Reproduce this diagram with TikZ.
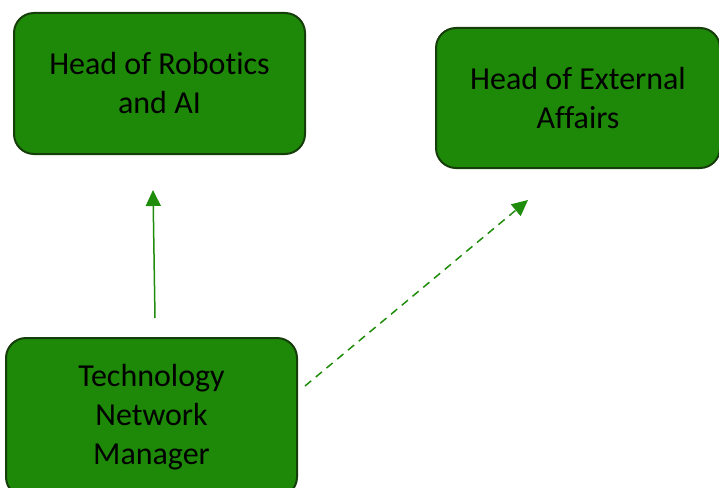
\documentclass[tikz,border=0pt]{standalone}
\usepackage{fontspec}
\setmainfont[Ligatures={NoCommon}]{Carlito}
\usetikzlibrary{arrows.meta}
\definecolor{boxfill}{RGB}{30,137,8}
\definecolor{boxline}{RGB}{22,62,10}
\definecolor{arrowgreen}{RGB}{32,140,12}
\tikzset{
  rolebox/.style={draw=boxline, line width=2pt, fill=boxfill, rounded corners=20pt,
    inner sep=0pt, align=center, text=black,
    font=\fontsize{32}{39}\selectfont},
  linkarrow/.style={draw=arrowgreen, line width=1.5pt,
    -{Triangle[length=16pt,width=15pt]}},
  dashlink/.style={linkarrow, dash pattern=on 8pt off 6pt}
}
\begin{document}
\begin{tikzpicture}[x=1pt,y=1pt]
\useasboundingbox (0,0) rectangle (719,-487);
\clip (0,0) rectangle (719,-487);
\node[rolebox, minimum width=291pt, minimum height=141pt] (robotics) at (159.5,-83.5) {Head of Robot\kern0pt ics\\and AI};
\node[rolebox, minimum width=284pt, minimum height=140pt] (external) at (578,-98) {Head of External\\Affairs};
\node[rolebox, minimum width=291pt, minimum height=159pt] (tech) at (151.5,-417.5) {Technology\\Network\\Manager};
\coordinate (s1) at (155,-318);
\coordinate (e1) at (153,-190);
\coordinate (s2) at (305,-386);
\coordinate (e2) at (528,-200);
\draw[linkarrow] (s1) -- (e1);
\draw[dashlink] (s2) -- (e2);
\end{tikzpicture}
\end{document}
